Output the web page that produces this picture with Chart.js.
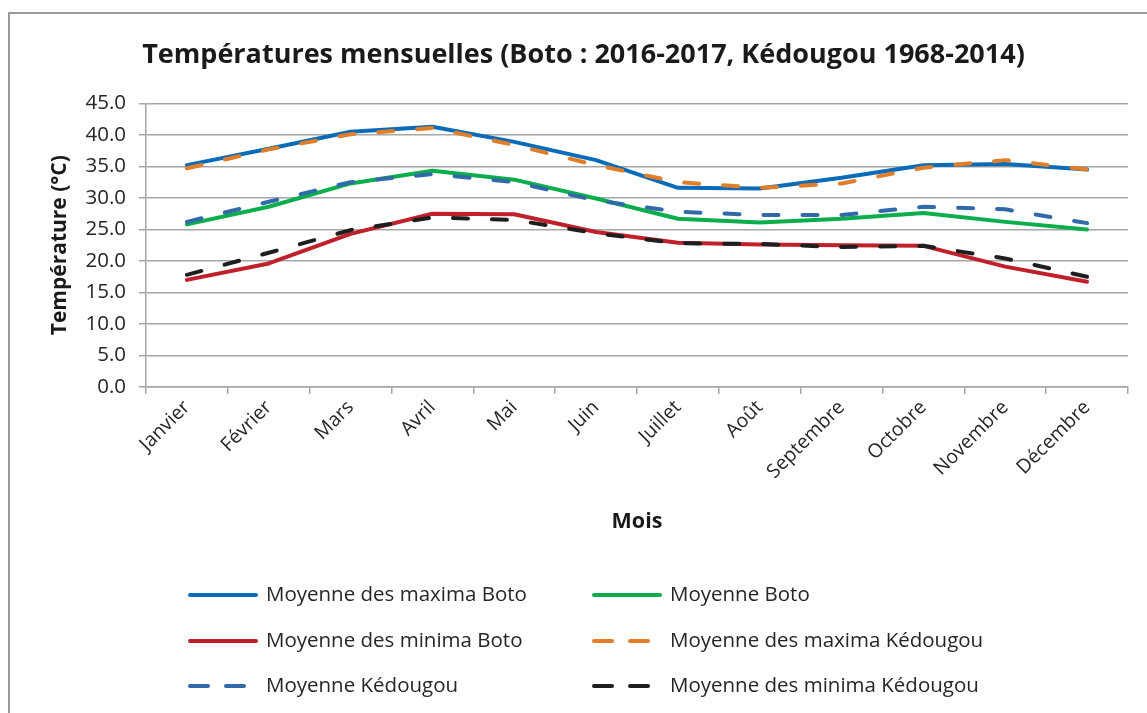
<!DOCTYPE html>
<html>
<head>
<meta charset="utf-8">
<script src="https://cdn.jsdelivr.net/npm/chart.js@4.4.1/dist/chart.umd.min.js"></script>
<style>
  body { margin: 0; background: #fff; overflow: hidden; }
  #frame { position: absolute; left: 8px; top: 12px; width: 1300px; height: 900px; border-left: 2px solid #9a9a9a; border-top: 2px solid #9a9a9a; }
  #wrap { position: absolute; left: 0; top: 0; width: 1147px; height: 713px; }
</style>
</head>
<body>
<div id="frame"></div>
<div id="wrap"><canvas id="tempChart" width="1147" height="713"></canvas></div>
<script>
const months = ['Janvier', 'Février', 'Mars', 'Avril', 'Mai', 'Juin', 'Juillet', 'Août', 'Septembre', 'Octobre', 'Novembre', 'Décembre']

const maxBoto = [35.2, 37.8, 40.5, 41.3, 38.9, 36.0, 31.6, 31.5, 33.2, 35.2, 35.4, 34.5]
const moyBoto = [25.8, 28.6, 32.3, 34.3, 32.9, 29.9, 26.7, 26.1, 26.7, 27.6, 26.2, 25.0]
const minBoto = [17.0, 19.6, 24.3, 27.5, 27.4, 24.6, 22.9, 22.6, 22.5, 22.4, 19.1, 16.7]
const maxKed = [34.7, 37.7, 40.1, 41.1, 38.4, 35.2, 32.5, 31.6, 32.3, 34.8, 36.0, 34.5]
const moyKed = [26.2, 29.4, 32.5, 33.8, 32.5, 29.6, 27.8, 27.3, 27.3, 28.6, 28.2, 26.0]
const minKed = [17.8, 21.3, 24.9, 26.9, 26.5, 24.4, 22.8, 22.7, 22.2, 22.4, 20.4, 17.5]

const FONT = '"Open Sans", "DejaVu Sans", sans-serif'
const DASH = [15, 24]

function line(label, data, color, dashed){
    return {
        label: label,
        data: data,
        borderColor: color,
        backgroundColor: color,
        borderWidth: 4,
        borderDash: dashed ? DASH : [],
        borderCapStyle: 'round',
        borderJoinStyle: 'round',
        pointRadius: 0,
        tension: 0,
        fill: false,
        order: dashed ? 0 : 1
    }
}

// legende en grille 2 colonnes, comme dans Excel
const gridLegend = {
    id: 'gridLegend',
    afterDraw(chart){
        const ctx = chart.ctx
        const area = chart.chartArea
        const cols = [area.left + 42, area.left + 446]
        const rows = [area.bottom + 208, area.bottom + 254, area.bottom + 299]
        ctx.save()
        chart.data.datasets.forEach((ds, i) => {
            const x = cols[i % 2]
            const y = rows[Math.floor(i / 2)]
            const dashed = ds.borderDash.length > 0
            ctx.beginPath()
            ctx.strokeStyle = ds.borderColor
            ctx.lineWidth = ds.borderWidth
            ctx.lineCap = 'round'
            ctx.setLineDash(dashed ? [18, 18] : [])
            ctx.moveTo(x + 2, y)
            ctx.lineTo(dashed ? x + 58 : x + 68, y)
            ctx.stroke()
            ctx.setLineDash([])
            ctx.fillStyle = '#262626'
            ctx.font = '20.5px ' + FONT
            ctx.textBaseline = 'middle'
            ctx.fillText(ds.label, x + 78, y)
        })
        ctx.restore()
    }
}

const ctx = document.getElementById('tempChart').getContext('2d')

new Chart(ctx, {
    type: 'line',
    data: {
        labels: months,
        datasets: [
            line('Moyenne des maxima Boto', maxBoto, '#0a6cb8', false),
            line('Moyenne Boto', moyBoto, '#0cad4c', false),
            line('Moyenne des minima Boto', minBoto, '#c0202b', false),
            line('Moyenne des maxima Kédougou', maxKed, '#e07e2a', true),
            line('Moyenne Kédougou', moyKed, '#3269a9', true),
            line('Moyenne des minima Kédougou', minKed, '#1e1e1e', true)
        ]
    },
    options: {
        responsive: false,
        animation: false,
        layout: { padding: { left: 20, right: 0, top: 0, bottom: 176 } },
        plugins: {
            legend: { display: false },
            tooltip: { enabled: false },
            title: {
                display: true,
                text: 'Températures mensuelles (Boto : 2016-2017, Kédougou 1968-2014)',
                color: '#1a1a1a',
                font: { family: FONT, size: 27, weight: 'bold' },
                padding: { top: 39, bottom: 32 }
            }
        },
        scales: {
            x: {
                offset: true,
                grid: { offset: true, drawOnChartArea: false, drawTicks: true, tickLength: 7, color: '#a6a6a6', lineWidth: 1.5 },
                border: { color: '#a6a6a6', width: 1.5 },
                ticks: { maxRotation: 45, minRotation: 45, color: '#262626', padding: 2, font: { family: FONT, size: 19.5 } },
                title: { display: true, text: 'Mois', color: '#1a1a1a', font: { family: FONT, size: 21.5, weight: 'bold' }, padding: { top: 0, bottom: 2 } },
                afterFit: s => { s.height = 150 }
            },
            y: {
                min: 0,
                max: 45,
                grid: { color: '#a6a6a6', lineWidth: 1.5, tickLength: 7 },
                border: { color: '#a6a6a6', width: 1.5 },
                ticks: { stepSize: 5, padding: 13, color: '#262626', font: { family: FONT, size: 20.5 }, callback: v => v.toFixed(1) },
                title: { display: true, text: 'Température (°C)', color: '#1a1a1a', font: { family: FONT, size: 21, weight: 'bold' }, padding: { top: 27, bottom: 0 } },
                afterFit: s => { s.width = 126 }
            },
            y2: {
                position: 'right',
                grid: { display: false },
                border: { display: false },
                ticks: { display: false },
                afterFit: s => { s.width = 19 }
            }
        }
    },
    plugins: [gridLegend]
})
</script>
</body>
</html>
